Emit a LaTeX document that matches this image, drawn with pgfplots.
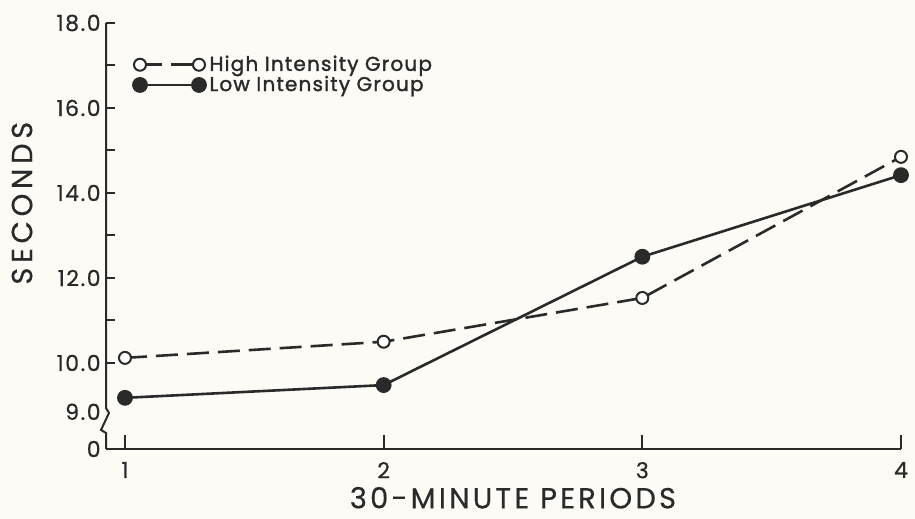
\documentclass[border=0pt]{standalone}
\usepackage{pgfplots}
\pgfplotsset{compat=1.18}
\usepackage{fontspec}
\setmainfont{Poppins}
\newfontfamily\tickfont{Poppins}[FakeBold=0.6, LetterSpace=7]
\newfontfamily\xlabfont{Poppins}[FakeBold=0.4, LetterSpace=11]
\newfontfamily\ylabfont{Poppins}[FakeBold=0.4, LetterSpace=16]
\newfontfamily\legfont{Poppins}[FakeBold=1.6, LetterSpace=6]
\definecolor{ink}{HTML}{2A2A2A}
\definecolor{paper}{HTML}{FCFBF6}
\begin{document}
\begin{tikzpicture}
\fill[paper] (0,0) rectangle (457.5pt,259.5pt);
\useasboundingbox (0,0) rectangle (457.5pt,259.5pt);
\begin{axis}[
  at={(53pt,35pt)}, anchor=south west,
  scale only axis, width=397.5pt, height=213pt,
  xmin=0.9266, xmax=4, ymin=7.976, ymax=18,
  clip=false,
  axis x line=bottom, axis y line=left,
  axis line style={-, ink, line width=1pt},
  y axis line style={draw=none},
  xtick={1,2,3,4}, xticklabels={1,2,3,4},
  ytick={10,12,14,16,18}, yticklabels={10.0,12.0,14.0,16.0,18.0},
  minor ytick={11,13,15,17},
  extra y ticks={7.976,8.85}, extra y tick labels={0,9.0},
  extra y tick style={major tick length=0pt},
  tick align=inside,
  major tick length=4.5pt, minor tick length=4.5pt,
  xtick style={/pgfplots/major tick length=7pt},
  tick style={ink, line width=1pt},
  ticklabel style={ink, font=\tickfont\fontsize{11}{11}\selectfont},
  yticklabel style={inner sep=2.5pt},
  xticklabel style={yshift=-3pt},
  xlabel={30-MINUTE PERIODS}, ylabel={SECONDS},
  xlabel style={at={(axis cs:2.50,6.58)}, anchor=base, inner sep=0pt, text depth=0pt,
    ink, font=\xlabfont\fontsize{14.5}{15}\selectfont},
  ylabel style={at={(axis cs:0.602,13.76)}, anchor=center, ink,
    font=\ylabfont\fontsize{14.5}{15}\selectfont},
  legend style={at={(axis cs:1.031,16.78)}, anchor=west, draw=none, fill=none,
    font=\legfont\fontsize{10}{10}\selectfont, text=ink, inner sep=0pt, row sep=-3pt,
    nodes={inner sep=2pt}},
  legend cell align=left,
  legend image code/.code={\draw[mark repeat=1,#1] plot coordinates {(0pt,0pt) (29.5pt,0pt)};},
]
\addplot[ink, line width=1.3pt, dash pattern=on 11pt off 4.5pt,
  mark=*, mark size=3pt, mark options={solid, fill=white, draw=ink, line width=1pt}]
  coordinates {(1,10.12) (2,10.50) (3,11.53) (4,14.85)};
\addlegendentry{High Intensity Group}
\addplot[ink, line width=1.3pt,
  mark=*, mark size=3.3pt, mark options={solid, fill=ink, draw=ink}]
  coordinates {(1,9.18) (2,9.48) (3,12.50) (4,14.42)};
\addlegendentry{Low Intensity Group}
\draw[ink, line width=1pt, line join=miter]
  (axis cs:0.9266,18) -- (axis cs:0.9266,8.941) -- (axis cs:0.9382,8.824)
  -- (axis cs:0.9073,8.424) -- (axis cs:0.9266,8.353) -- (axis cs:0.9266,7.976);
\end{axis}
\end{tikzpicture}
\end{document}
